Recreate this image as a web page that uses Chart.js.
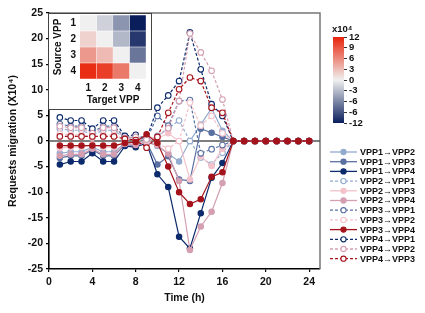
<!DOCTYPE html>
<html><head><meta charset="utf-8">
<script src="https://cdn.jsdelivr.net/npm/chart.js@4"></script>
<style>
html,body{margin:0;padding:0;background:#fff;width:425px;height:313px;overflow:hidden;}
#wrap{position:relative;width:425px;height:313px;}
#main{position:absolute;left:0;top:0;}
#inset{position:absolute;left:48px;top:13px;width:104px;height:97px;background:#fff;border:1.5px solid #444;box-sizing:border-box;overflow:hidden;}
#insetc{position:absolute;left:0;top:0;}
#cbar{position:absolute;left:322px;top:22px;}
</style></head>
<body><div id="wrap">
<canvas id="main" width="425" height="313"></canvas>
<div id="inset"><canvas id="insetc" width="101" height="94"></canvas></div>
<canvas id="cbar" width="60" height="108"></canvas>
</div>
<script>
// ---------- data ----------
const hours = [1,2,3,4,5,6,7,8,9,10,11,12,13,14,15,16,17,18,19,20,21,22,23,24];
const xTicks = [0,4,8,12,16,20,24];
const yTicks = [-25,-20,-15,-10,-5,0,5,10,15,20,25];

const vpp1to2 = [-2.4,-2.1,-2.1,-1.2,-2.1,-2.1,-0.5,-0.7, 0.0,-1.0,-2.5,-4.0,0.0,3.2,6.4,2.0, 0,0,0,0,0,0,0,0];
const vpp1to3 = [-3.3,-2.9,-2.9,-1.7,-2.9,-2.9,-0.7,-0.9, -0.2,-4.6,-3.0,-7.5,-7.8,2.4,1.6,0.8, 0,0,0,0,0,0,0,0];
const vpp1to4 = [-4.6,-4.0,-4.0,-2.4,-4.0,-4.0,-1.0,-1.2, -0.4,-6.5,-9.0,-18.7,-21.0,-14.1,-7.2,-4.3, 0,0,0,0,0,0,0,0];
const vpp2to1 = [2.4,2.1,2.1,1.2,2.1,2.1,0.5,0.7, 0.0,1.0,2.5,4.0,0.0,-3.2,-4.6,-2.3, 0,0,0,0,0,0,0,0];
const vpp2to3 = [-1.4,-1.2,-1.2,-0.7,-1.2,-1.2,-0.3,-0.4, 0.0,0.5,1.5,0.0,-7.5,-3.0,-4.9,-1.5, 0,0,0,0,0,0,0,0];
const vpp2to4 = [-2.9,-2.6,-2.6,-1.5,-2.6,-2.6,-0.6,-0.8, -0.3,-0.8,-2.5,-7.8,-21.3,-16.7,-13.8,-8.2, 0,0,0,0,0,0,0,0];
const vpp3to1 = [3.3,2.9,2.9,1.7,2.9,2.9,0.7,0.9, 0.2,4.9,3.0,7.8,8.0,-2.4,-1.6,-0.8, 0,0,0,0,0,0,0,0];
const vpp3to2 = [1.4,1.2,1.2,0.7,1.2,1.2,0.3,0.4, 0.0,-0.5,-1.5,0.0,7.5,3.0,4.9,1.5, 0,0,0,0,0,0,0,0];
const vpp3to4 = [-0.9,-0.9,-0.9,-0.9,-0.9,-0.9,-0.4,-0.2, 1.3,-0.4,-5.0,-10.0,-12.3,-11.4,-7.0,-6.1, 0,0,0,0,0,0,0,0];
const vpp4to1 = [4.6,4.0,4.0,2.4,4.0,4.0,1.0,1.2, 0.4,6.5,8.9,11.7,21.2,14.0,7.2,4.9, 0,0,0,0,0,0,0,0];
const vpp4to2 = [2.9,2.6,2.6,1.5,2.6,2.6,0.6,0.8, 0.3,0.8,2.5,7.8,21.0,17.3,13.7,8.1, 0,0,0,0,0,0,0,0];
const vpp4to3 = [0.9,0.9,0.9,0.9,0.9,0.9,0.4,0.2, -1.3,0.8,5.5,10.1,12.4,11.7,6.5,5.5, 0,0,0,0,0,0,0,0];

// heatmap (x10^4), rows = source VPP, cols = target VPP
const sourceLabels = ['1','2','3','4'];
const targetLabels = ['1','2','3','4'];
const heatRow1 = [0, -1.8, -5.2, -12];
const heatRow2 = [1.8, 0, -3.2, -10.5];
const heatRow3 = [5.2, 3.2, 0, -7];
const heatRow4 = [11.5, 10.5, 7, 0];

// colorbar
const cbTicks = [12,9,6,3,0,-3,-6,-9,-12];
const cbTickLabels = ['12','9','6','3','0','-3','-6','-6','-12'];

// ---------- styling ----------
const FONT = "'Liberation Sans', Arial, sans-serif";
const C = {lb:'#93abcf', mb:'#5a70a2', nv:'#0c2a6c', lp:'#f3c2ca', pk:'#d49fb1', dr:'#a4131b'};
const seriesDefs = [
  ['VPP1\u2192VPP2', vpp1to2, C.lb, false],
  ['VPP1\u2192VPP3', vpp1to3, C.mb, false],
  ['VPP1\u2192VPP4', vpp1to4, C.nv, false],
  ['VPP2\u2192VPP1', vpp2to1, C.lb, true],
  ['VPP2\u2192VPP3', vpp2to3, C.lp, false],
  ['VPP2\u2192VPP4', vpp2to4, C.pk, false],
  ['VPP3\u2192VPP1', vpp3to1, C.mb, true],
  ['VPP3\u2192VPP2', vpp3to2, C.lp, true],
  ['VPP3\u2192VPP4', vpp3to4, C.dr, false],
  ['VPP4\u2192VPP1', vpp4to1, C.nv, true],
  ['VPP4\u2192VPP2', vpp4to2, C.pk, true],
  ['VPP4\u2192VPP3', vpp4to3, C.dr, true],
];
const datasets = seriesDefs.map(([label, vals, col, open], i) => ({
  label, data: vals.map((v,k)=>({x:hours[k], y:v})),
  borderColor: col, backgroundColor: open ? '#ffffff' : col,
  pointBorderColor: col, pointBackgroundColor: open ? '#ffffff' : col,
  borderDash: open ? [3,2] : [], borderWidth: 1.2,
  pointRadius: open ? 2.8 : 2.7, pointBorderWidth: 1.1, tension: 0, fill: false,
  order: label === 'VPP3\u2192VPP4' ? 0 : 12 - i
}));
datasets.push({label:'_zero', data:[{x:xTicks[0],y:0},{x:25,y:0}], borderColor:'#555', borderWidth:1.6, pointRadius:0, fill:false, order:100});

const framePlugin = {
  id:'frame',
  beforeDatasetsDraw(chart){
    const a = chart.chartArea, ctx = chart.ctx;
    ctx.save(); ctx.strokeStyle='#777'; ctx.lineWidth=1.5;
    ctx.beginPath(); ctx.moveTo(a.left, a.top); ctx.lineTo(a.right, a.top); ctx.lineTo(a.right, a.bottom); ctx.stroke();
    ctx.restore();
  },
  afterDraw(chart){
    const ctx = chart.ctx;
    const x0 = chart.chartArea.right + 10, y0 = 152, dy = 9.7;
    ctx.save();
    chart.data.datasets.forEach((ds, i) => {
      if (ds.label === '_zero') return;
      const y = y0 + i*dy;
      ctx.strokeStyle = ds.borderColor; ctx.lineWidth = 1.3;
      ctx.setLineDash(ds.borderDash || []);
      ctx.beginPath(); ctx.moveTo(x0, y); ctx.lineTo(x0+27, y); ctx.stroke();
      ctx.setLineDash([]);
      ctx.beginPath(); ctx.arc(x0+13.5, y, 2.6, 0, Math.PI*2);
      ctx.fillStyle = ds.pointBackgroundColor; ctx.fill();
      ctx.lineWidth = 1.1; ctx.strokeStyle = ds.borderColor; ctx.stroke();
      ctx.fillStyle = '#111'; ctx.font = 'bold 9px ' + FONT;
      ctx.textBaseline = 'middle'; ctx.textAlign = 'left';
      ctx.fillText(ds.label, x0+30, y+0.5);
    });
    ctx.restore();
  }
};

new Chart(document.getElementById('main'), {
  type:'line',
  data:{datasets},
  options:{
    responsive:false, animation:false, devicePixelRatio:1,
    layout:{padding:{top:13, right:105, left:0, bottom:0}},
    plugins:{legend:{display:false}, tooltip:{enabled:false}},
    scales:{
      x:{type:'linear', min:0, max:25,
        afterBuildTicks:s=>{ s.ticks = xTicks.map(v=>({value:v})); },
        afterFit:s=>{ s.height = 44; },
        ticks:{font:{family:FONT, size:10.5, weight:'bold'}, color:'#111', padding:4, maxRotation:0, autoSkip:false},
        grid:{drawOnChartArea:false, drawTicks:true, tickLength:3, color:'#000', lineWidth:1.2},
        border:{color:'#000', width:1.6},
        title:{display:true, text:'Time (h)', font:{family:FONT, size:10.5, weight:'bold'}, color:'#111', padding:{top:2,bottom:9}}
      },
      y:{type:'linear', min:-25, max:25,
        afterBuildTicks:s=>{ s.ticks = yTicks.map(v=>({value:v})); },
        afterFit:s=>{ s.width = 49; },
        ticks:{font:{family:FONT, size:10.5, weight:'bold'}, color:'#111', padding:3, autoSkip:false},
        grid:{drawOnChartArea:false, drawTicks:true, tickLength:3, color:'#000', lineWidth:1.2},
        border:{color:'#000', width:1.6},
        title:{display:true, text:'Requests migration (X10\u2074)', font:{family:FONT, size:10.5, weight:'bold'}, color:'#111', padding:{top:7,bottom:0}}
      }
    }
  },
  plugins:[framePlugin]
});

// ---------- colormap ----------
const cNeg = [10,30,92], cMid = [240,240,240], cPos = [232,36,10];
function cmap(v){
  const t = Math.max(-1, Math.min(1, v/12));
  const a = t < 0 ? cNeg : cPos, f = Math.abs(t);
  const c = cMid.map((m,k)=>Math.round(m + (a[k]-m)*f));
  return 'rgb('+c.join(',')+')';
}
const heatRows = [heatRow1, heatRow2, heatRow3, heatRow4];

// ---------- inset heatmap: stacked horizontal bars, one dataset per target column ----------
new Chart(document.getElementById('insetc'), {
  type:'bar',
  data:{
    labels: sourceLabels,
    datasets: targetLabels.map((t, j) => ({
      label:t, data: sourceLabels.map(()=>1),
      backgroundColor: heatRows.map(r => cmap(r[j])),
      borderColor:'rgba(255,255,255,0.6)', borderWidth:0.5,
      categoryPercentage:1, barPercentage:1
    }))
  },
  options:{
    indexAxis:'y', responsive:false, animation:false, devicePixelRatio:1,
    layout:{padding:{top:1, right:4, left:0, bottom:0}},
    plugins:{legend:{display:false}, tooltip:{enabled:false}},
    scales:{
      x:{type:'linear', stacked:true, min:0, max:targetLabels.length,
        afterBuildTicks:s=>{ s.ticks = targetLabels.map((t,j)=>({value:j+0.5})); },
        afterFit:s=>{ s.height = 29; s.paddingLeft = 0; s.paddingRight = 0; },
        ticks:{callback:(v)=>targetLabels[Math.floor(v)], font:{family:FONT, size:10, weight:'bold'}, color:'#111', padding:3, maxRotation:0, autoSkip:false},
        grid:{display:false, drawTicks:false}, border:{display:false},
        title:{display:true, text:'Target VPP', font:{family:FONT, size:10, weight:'bold'}, color:'#111', padding:{top:0,bottom:2}}
      },
      y:{type:'category', stacked:true,
        afterFit:s=>{ s.width = 31; s.paddingTop = 0; s.paddingBottom = 0; },
        ticks:{font:{family:FONT, size:10, weight:'bold'}, color:'#111', padding:4, autoSkip:false},
        grid:{display:false, drawTicks:false}, border:{display:false},
        title:{display:true, text:'Source VPP', font:{family:FONT, size:10, weight:'bold'}, color:'#111', padding:{top:3,bottom:0}}
      }
    }
  }
});

// ---------- colorbar ----------
const cbTitle = {
  id:'cbTitle',
  afterDraw(chart){
    const ctx = chart.ctx, a = chart.chartArea;
    ctx.save(); ctx.fillStyle='#111'; ctx.font='bold 9.5px '+FONT; ctx.textBaseline='alphabetic'; ctx.textAlign='left';
    ctx.fillText('x10\u2074', a.left-1, a.top-5);
    ctx.restore();
  }
};
new Chart(document.getElementById('cbar'), {
  type:'bar',
  data:{labels:[''], datasets:[{
    data:[[cbTicks[cbTicks.length-1], cbTicks[0]]],
    backgroundColor:(c)=>{
      const {ctx, chartArea} = c.chart; if(!chartArea) return '#ccc';
      const g = ctx.createLinearGradient(0, chartArea.bottom, 0, chartArea.top);
      for (let k=0;k<=24;k++){ g.addColorStop(k/24, cmap(-12 + k)); }
      return g;
    },
    categoryPercentage:1, barPercentage:1, borderWidth:0
  }]},
  options:{
    responsive:false, animation:false, devicePixelRatio:1,
    layout:{padding:{top:15, left:11, right:0, bottom:7}},
    plugins:{legend:{display:false}, tooltip:{enabled:false}},
    scales:{
      x:{display:false},
      y:{type:'linear', position:'right', min:-12, max:12,
        afterBuildTicks:s=>{ s.ticks = cbTicks.map(v=>({value:v})); },
        afterFit:s=>{ s.width = 38; s.paddingTop = 0; s.paddingBottom = 0; },
        ticks:{callback:(v)=>cbTickLabels[cbTicks.indexOf(v)], font:{family:FONT, size:9.5, weight:'bold'}, color:'#111', padding:2, autoSkip:false},
        grid:{drawOnChartArea:false, drawTicks:true, tickLength:3, color:'#333'},
        border:{display:false}
      }
    }
  },
  plugins:[cbTitle]
});
</script>
</body></html>
